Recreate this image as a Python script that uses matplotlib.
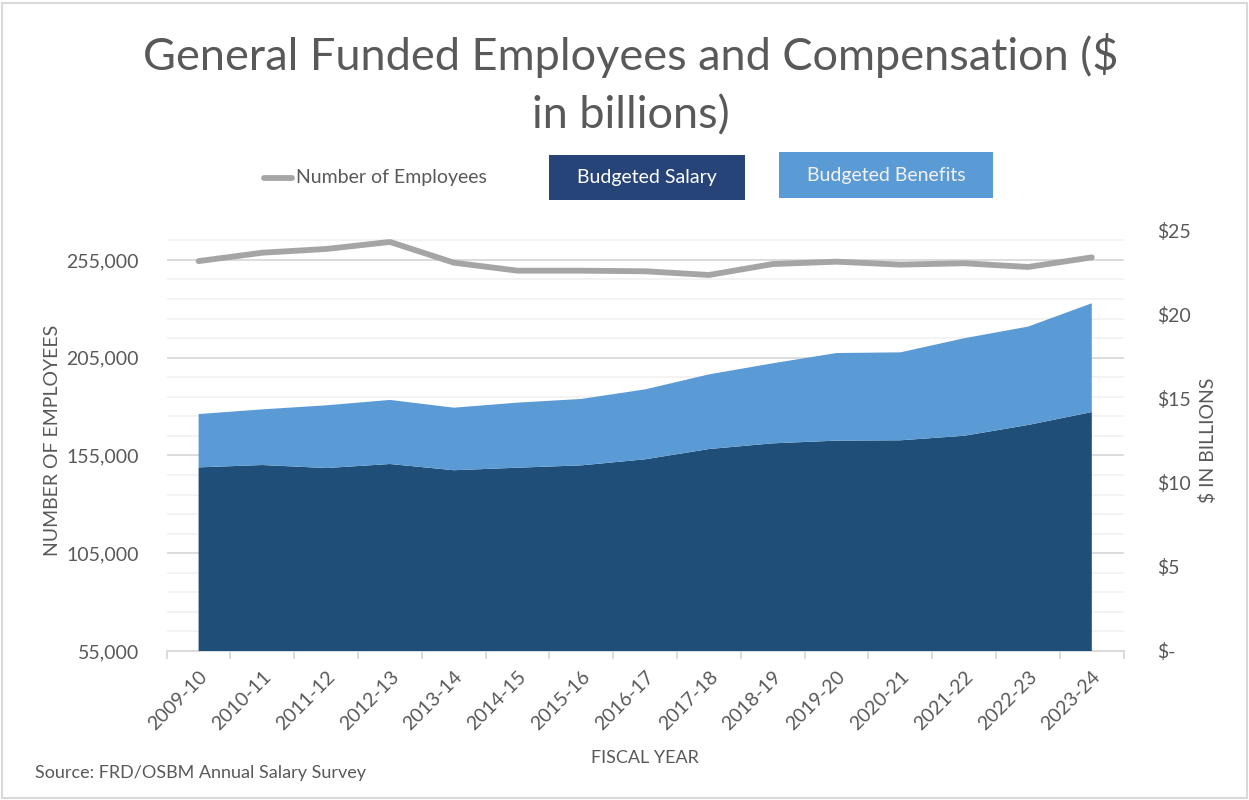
import matplotlib
matplotlib.use("Agg")
import matplotlib.pyplot as plt
from matplotlib.ticker import FixedLocator, FuncFormatter
from matplotlib.patches import Rectangle
from matplotlib.lines import Line2D

years = ["2009-10", "2010-11", "2011-12", "2012-13", "2013-14", "2014-15", "2015-16",
         "2016-17", "2017-18", "2018-19", "2019-20", "2020-21", "2021-22", "2022-23", "2023-24"]
employees = [254400, 258700, 260600, 264200, 253600, 249500, 249500, 249200, 247300,
             252900, 254100, 252600, 253300, 251400, 256300]
salary = [10.92, 11.06, 10.88, 11.12, 10.75, 10.90, 11.04, 11.40, 12.01, 12.35,
          12.51, 12.53, 12.80, 13.44, 14.21]
benefits = [3.17, 3.31, 3.73, 3.81, 3.72, 3.87, 3.95, 4.16, 4.44, 4.76,
            5.21, 5.23, 5.80, 5.85, 6.47]

left_ticks = [55000, 105000, 155000, 205000, 255000]
right_ticks = [0, 5, 10, 15, 20, 25]

FONT = ["Lato", "DejaVu Sans"]
plt.rcParams["font.family"] = FONT
TXT = "#595959"
C_SAL = "#1F4E79"
C_BEN = "#5B9BD5"
C_LINE = "#A5A5A5"

fig = plt.figure(figsize=(12.49, 8.0), dpi=100)
fig.patches.append(Rectangle((0.002, 0.002), 0.996, 0.994, transform=fig.transFigure,
                             fill=False, edgecolor="#D9D9D9", linewidth=1.5))

L, R, B, T = 166.7 / 1249, 1123.7 / 1249, 1 - 651 / 800, 1 - 230.6 / 800
ax = fig.add_axes([L, B, R - L, T - B])
x = list(range(len(years)))

# left axis (employees) with grid
ax.set_xlim(-0.5, len(years) - 0.5)
ax.set_ylim(55000, 270000)
ax.yaxis.set_major_locator(FixedLocator(left_ticks))
ax.yaxis.set_minor_locator(FixedLocator(list(range(55000, 270001, 10000))))
ax.yaxis.set_major_formatter(FuncFormatter(lambda v, p: f"{int(v):,}"))
ax.grid(axis="y", which="major", color="#D9D9D9", linewidth=1.3)
ax.grid(axis="y", which="minor", color="#F2F2F2", linewidth=1.3)
ax.set_axisbelow(True)
for s in ["top", "right", "left"]:
    ax.spines[s].set_visible(False)
ax.spines["bottom"].set_color("#D9D9D9")
ax.spines["bottom"].set_linewidth(1.3)
ax.tick_params(axis="y", which="both", length=0, labelsize=14, labelcolor=TXT, pad=20)
ax.set_xticks(x)
ax.set_xticklabels(years, rotation=45, ha="right", rotation_mode="anchor")
ax.set_xticks([i - 0.5 for i in range(len(years) + 1)], minor=True)
ax.tick_params(axis="x", which="major", length=0, labelsize=14, labelcolor=TXT, pad=12)
ax.tick_params(axis="x", which="minor", length=6, color="#D9D9D9", width=1.3)
ax.set_ylabel("NUMBER OF EMPLOYEES", fontsize=14, color=TXT, labelpad=4)
ax.set_xlabel("FISCAL YEAR", fontsize=13, color=TXT, labelpad=12)

# right axis ($ billions) with stacked areas
ax2 = ax.twinx()
ax2.set_ylim(0, 25)
ax2.stackplot(x, salary, benefits, colors=[C_SAL, C_BEN], linewidth=0)
ax2.yaxis.set_major_locator(FixedLocator(right_ticks))
ax2.yaxis.set_major_formatter(FuncFormatter(lambda v, p: "$-" if v == 0 else f"${int(v)}"))
ax2.tick_params(axis="y", length=0, labelsize=14, labelcolor=TXT, pad=24)
for s in ax2.spines.values():
    s.set_visible(False)
ax2.set_ylabel("$ IN BILLIONS", fontsize=14, color=TXT, rotation=90, labelpad=6)

# line on top
ax3 = ax.twinx()
ax3.set_ylim(ax.get_ylim())
ax3.plot(x, employees, color=C_LINE, linewidth=4.2, solid_capstyle="round")
ax3.set_yticks([])
for s in ax3.spines.values():
    s.set_visible(False)
ax3.set_xlim(ax.get_xlim())

# title
fig.text(0.505, 1 - 56 / 800, "General Funded Employees and Compensation ($", ha="center",
         va="center", fontsize=32.5, color=TXT)
fig.text(0.505, 1 - 116 / 800, "in billions)", ha="center", va="center", fontsize=32.5,
         color=TXT)

# legend
fig.lines.append(Line2D([264 / 1249, 292 / 1249], [1 - 178 / 800] * 2, transform=fig.transFigure,
                        color=C_LINE, linewidth=4.2, solid_capstyle="round"))
fig.text(296 / 1249, 1 - 178 / 800, "Number of Employees", ha="left", va="center",
         fontsize=14, color=TXT)
fig.patches.append(Rectangle((549 / 1249, 1 - 200 / 800), 196 / 1249, 45 / 800,
                             transform=fig.transFigure, facecolor="#264478", edgecolor="none"))
fig.text(647 / 1249, 1 - 178 / 800, "Budgeted Salary", ha="center", va="center",
         fontsize=14, color="white")
fig.patches.append(Rectangle((779 / 1249, 1 - 198 / 800), 214 / 1249, 46 / 800,
                             transform=fig.transFigure, facecolor=C_BEN, edgecolor="none"))
fig.text(886 / 1249, 1 - 175 / 800, "Budgeted Benefits", ha="center", va="center",
         fontsize=14, color="#F2F2F2")

fig.text(35 / 1249, 1 - 773 / 800, "Source: FRD/OSBM Annual Salary Survey", ha="left",
         va="center", fontsize=13, color=TXT)

fig.savefig("out.png", dpi=100)
